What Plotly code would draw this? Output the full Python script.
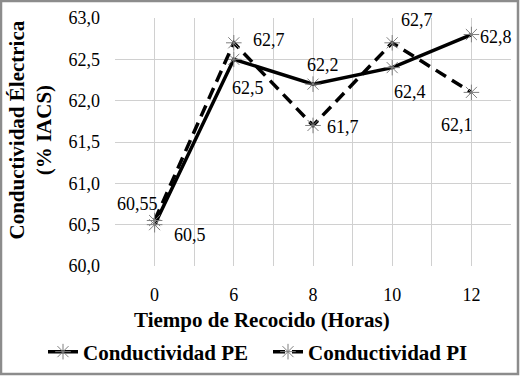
import plotly.graph_objects as go

categories = ["0", "6", "8", "10", "12"]
pe_values = [60.5, 62.5, 62.2, 62.4, 62.8]
pi_values = [60.55, 62.7, 61.7, 62.7, 62.1]
series_names = ["Conductividad PE", "Conductividad PI"]

# label offsets (px, style only)
pe_offsets = [(35, -10), (14, -29), (10, 19), (18, -24), (25, -2)]
pi_offsets = [(-17, 17), (35, 3), (30, -2), (25, 23), (-14, -33)]

FONT = "Liberation Serif"
W, H = 520, 376
L, R, T, B = 115, 9, 18, 110
PW, PH = W - L - R, H - T - B

def px(xp):
    return (xp - L) / PW

def py(yp):
    return (H - B - yp) / PH

xpos = list(range(len(categories)))

fig = go.Figure()
fig.add_trace(go.Scatter(
    x=xpos, y=pe_values, name=series_names[0], mode="lines+markers",
    line=dict(color="black", width=3.5),
    marker=dict(symbol="asterisk-open", size=13, color="#7f7f7f", line=dict(color="#7f7f7f", width=1)),
))
fig.add_trace(go.Scatter(
    x=xpos, y=pi_values, name=series_names[1], mode="lines+markers",
    line=dict(color="black", width=3.5, dash="12px,7px"),
    marker=dict(symbol="asterisk-open", size=13, color="#7f7f7f", line=dict(color="#7f7f7f", width=1)),
))

def fmt(v):
    s = f"{v:g}"
    return s.replace(".", ",")

annotations = []
for vals, offs in ((pe_values, pe_offsets), (pi_values, pi_offsets)):
    for xi, v, (dx, dy) in zip(xpos, vals, offs):
        annotations.append(dict(
            x=xi, y=v, xref="x", yref="y", text=fmt(v), showarrow=False,
            xanchor="center", yanchor="middle",
            xshift=dx, yshift=dy, font=dict(family=FONT, size=18, color="black"),
        ))

annotations.append(dict(
    x=px(29.5), y=py(130), xref="paper", yref="paper",
    xanchor="center", yanchor="middle",
    text="<b>Conductividad Électrica<br>(% IACS)</b>", textangle=-90, showarrow=False,
    font=dict(family=FONT, size=21, color="black"),
))
annotations.append(dict(
    x=px(262), y=py(320), xref="paper", yref="paper",
    xanchor="center", yanchor="middle",
    text="<b>Tiempo de Recocido (Horas)</b>", showarrow=False,
    font=dict(family=FONT, size=21, color="black"),
))

fig.update_layout(
    width=W, height=H,
    margin=dict(l=L, r=R, t=T, b=B, autoexpand=False),
    paper_bgcolor="white", plot_bgcolor="white",
    separators=",.",
    font=dict(family=FONT, size=18, color="black"),
    annotations=annotations,
    showlegend=True,
    legend=dict(
        orientation="h", xref="paper", yref="paper",
        x=px(43), y=py(352), xanchor="left", yanchor="middle",
        font=dict(family=FONT, size=21, color="black", weight="bold"),
        entrywidth=180, entrywidthmode="pixels", itemwidth=30,
        bgcolor="rgba(0,0,0,0)",
    ),
    shapes=[dict(
        type="rect", xref="paper", yref="paper",
        x0=px(1), x1=px(518), y0=py(374), y1=py(1),
        line=dict(color="#8c8c8c", width=2.5), fillcolor="rgba(0,0,0,0)", layer="below",
    )],
)

fig.update_xaxes(
    range=[-0.5, len(categories) - 0.5],
    tickmode="array", tickvals=xpos, ticktext=categories,
    showgrid=True, gridcolor="#d0d0d0", gridwidth=1,
    minor=dict(tickvals=[i - 0.5 for i in range(len(categories) + 1)], showgrid=True,
               gridcolor="#d0d0d0", gridwidth=1, ticks=""),
    zeroline=False, showline=False, ticks="",
    ticklabelstandoff=16,
    tickfont=dict(family=FONT, size=18, color="black"),
)
fig.update_yaxes(
    range=[60, 63], dtick=0.5, tick0=60, tickformat=".1f",
    showgrid=True, gridcolor="#d0d0d0", gridwidth=1,
    zeroline=False, showline=False, ticks="",
    ticklabelstandoff=14,
    tickfont=dict(family=FONT, size=18, color="black"),
)

fig.write_html("out.html", config={"displayModeBar": False},
               post_script="document.body.style.margin='0';")
